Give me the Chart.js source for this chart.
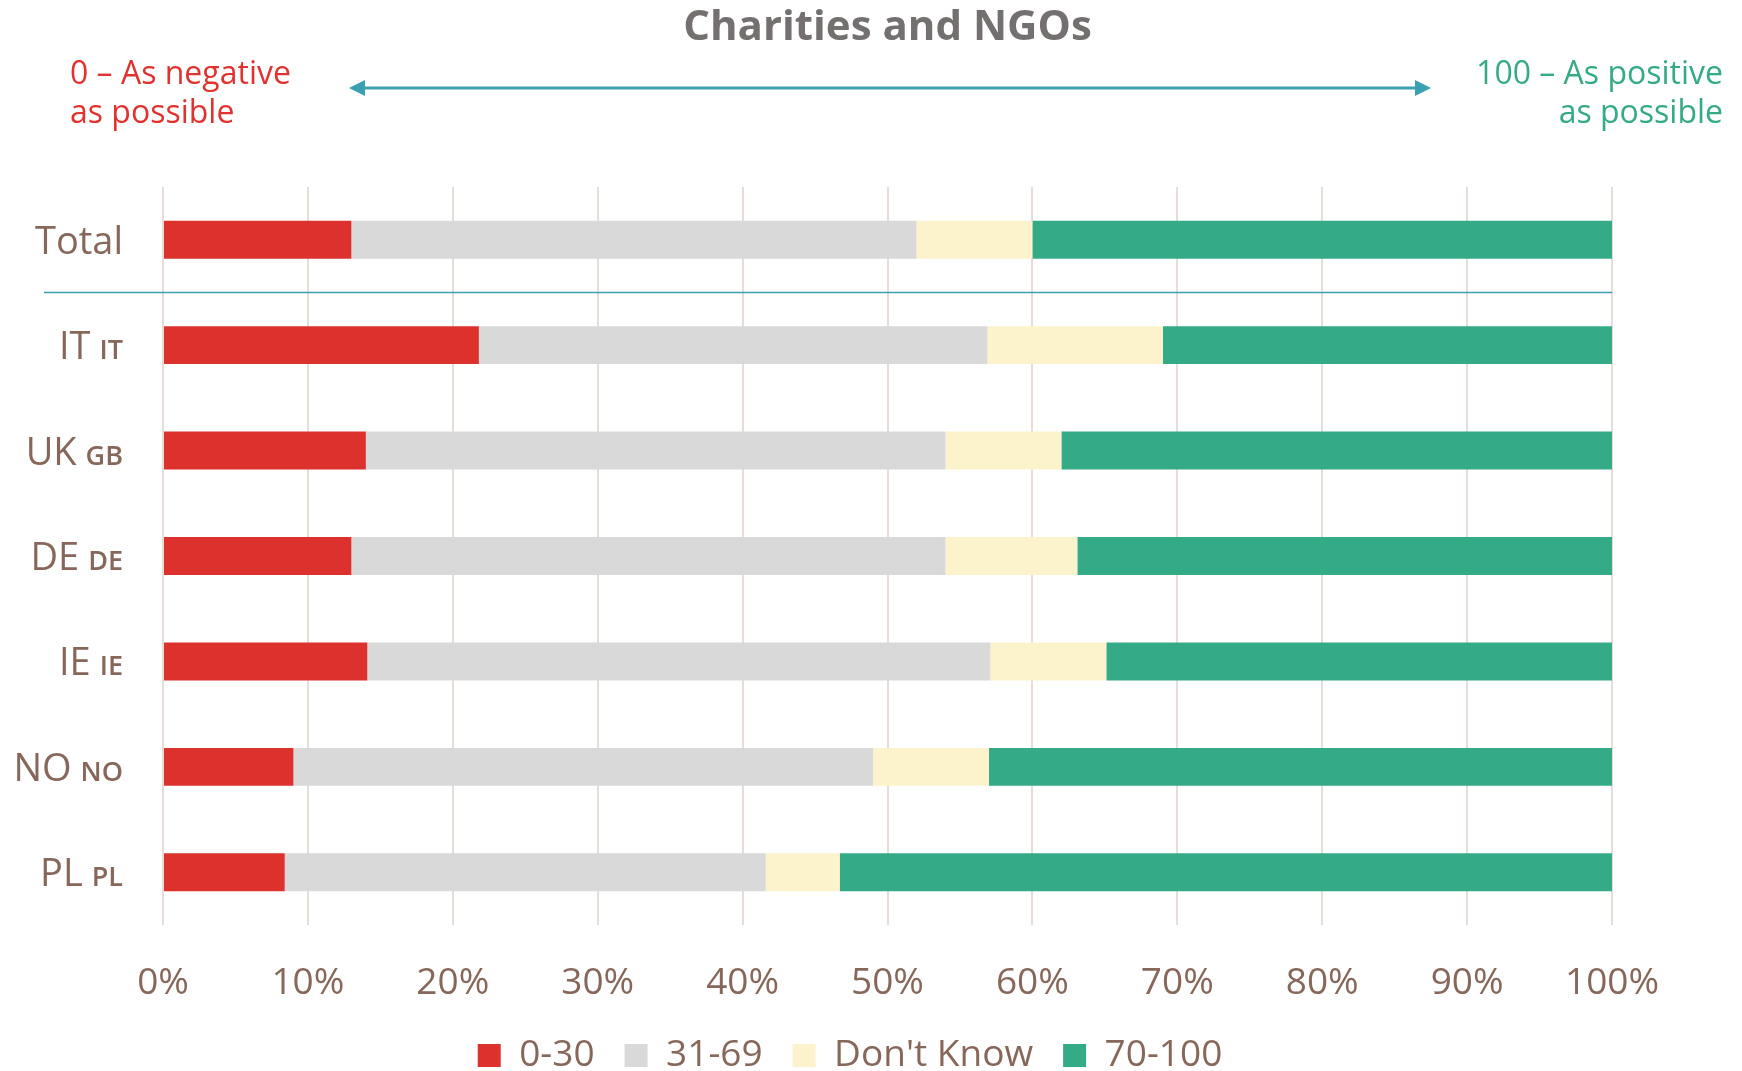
<!DOCTYPE html>
<html>
<head>
<meta charset="utf-8">
<title>Charities and NGOs</title>
<script src="https://cdn.jsdelivr.net/npm/chart.js@4.4.1/dist/chart.umd.min.js"></script>
<style>
  html, body { margin: 0; padding: 0; background: #fff; }
  #wrap { width: 1742px; height: 1071px; position: relative; }
</style>
</head>
<body>
<div id="wrap"><canvas id="chart"></canvas></div>
<script>
// values (% of respondents)
const categories = ["Total", "IT", "UK", "DE", "IE", "NO", "PL"];
const flagCodes = ["", "IT", "GB", "DE", "IE", "NO", "PL"];
const seriesNames = ["0-30", "31-69", "Don't Know", "70-100"];
const negative = [13.0, 21.8, 14.0, 13.0, 14.1, 9.0, 8.4];
const neutral = [39.0, 35.1, 40.0, 41.0, 43.0, 40.0, 33.2];
const dontKnow = [8.0, 12.1, 8.0, 9.1, 8.0, 8.0, 5.1];
const positive = [40.0, 31.0, 38.0, 36.9, 34.9, 43.0, 53.3];
const tickSuffix = "%";

const FONT = "'Open Sans', 'Noto Sans', sans-serif";
const BROWN = "#87675a";
const TEAL = "#3a9fb0";
const colors = ["#dd312e", "#d9d9d9", "#fcf3cc", "#35aa87"];

Chart.defaults.font.family = FONT;
Chart.defaults.color = BROWN;

// title, scale notes, arrow, separator and the two-part row labels
const decorations = {
  id: "decorations",
  beforeDatasetsDraw(chart) {
    const { ctx, chartArea, scales: { y } } = chart;
    const yLine = (y.getPixelForValue(0) + y.getPixelForValue(1)) / 2;
    ctx.save();
    ctx.strokeStyle = TEAL;
    ctx.lineWidth = 1.5;
    ctx.beginPath();
    ctx.moveTo(44, yLine);
    ctx.lineTo(chartArea.right, yLine);
    ctx.stroke();
    ctx.restore();
  },
  afterDraw(chart) {
    const { ctx, chartArea, scales: { y } } = chart;
    ctx.save();

    // title
    ctx.fillStyle = "#747070";
    ctx.font = "bold 42px " + FONT;
    ctx.textAlign = "center";
    ctx.textBaseline = "middle";
    ctx.fillText("Charities and NGOs", (chartArea.left + chartArea.right) / 2, 28);

    // scale notes
    ctx.font = "32px " + FONT;
    ctx.textAlign = "left";
    ctx.fillStyle = "#e0332f";
    ctx.fillText("0 \u2013 As negative", 70, 75);
    ctx.fillText("as possible", 70, 114);
    ctx.textAlign = "right";
    ctx.fillStyle = "#35aa86";
    ctx.fillText("100 \u2013 As positive", 1723, 75);
    ctx.fillText("as possible", 1723, 114);

    // double arrow
    const ay = 88, ax1 = 349, ax2 = 1431;
    ctx.strokeStyle = TEAL;
    ctx.fillStyle = TEAL;
    ctx.lineWidth = 3;
    ctx.beginPath();
    ctx.moveTo(ax1 + 10, ay);
    ctx.lineTo(ax2 - 10, ay);
    ctx.stroke();
    ctx.beginPath();
    ctx.moveTo(ax1, ay);
    ctx.lineTo(ax1 + 16, ay - 8);
    ctx.lineTo(ax1 + 16, ay + 8);
    ctx.closePath();
    ctx.fill();
    ctx.beginPath();
    ctx.moveTo(ax2, ay);
    ctx.lineTo(ax2 - 16, ay - 8);
    ctx.lineTo(ax2 - 16, ay + 8);
    ctx.closePath();
    ctx.fill();

    // row labels: name + small country code
    ctx.fillStyle = BROWN;
    ctx.textAlign = "right";
    ctx.textBaseline = "alphabetic";
    categories.forEach((name, i) => {
      const cy = y.getPixelForValue(i);
      const base = cy + 14;
      let px = 123;
      if (flagCodes[i]) {
        ctx.font = "600 27px " + FONT;
        ctx.fillText(flagCodes[i], px, base);
        px -= ctx.measureText(flagCodes[i]).width + 9;
      }
      ctx.font = "38px " + FONT;
      ctx.fillText(name, px, base);
    });
    ctx.restore();
  }
};

const seriesValues = [negative, neutral, dontKnow, positive];

new Chart(document.getElementById("chart"), {
  type: "bar",
  data: {
    labels: categories,
    datasets: seriesNames.map((name, i) => ({
      label: name,
      data: seriesValues[i],
      backgroundColor: colors[i],
      borderWidth: 0,
      categoryPercentage: 1,
      barPercentage: 0.36
    }))
  },
  options: {
    indexAxis: "y",
    responsive: true,
    maintainAspectRatio: false,
    animation: false,
    layout: { padding: { top: 187, right: 130, bottom: -13, left: 88 } },
    scales: {
      x: {
        stacked: true,
        min: 0,
        max: 100,
        ticks: {
          stepSize: 10,
          padding: 35,
          color: BROWN,
          font: { size: 37, lineHeight: 1.243 },
          callback: v => v + tickSuffix
        },
        grid: { color: "#e6dcd8", lineWidth: 2, drawTicks: false },
        border: { display: false },
        afterFit: scale => { scale.height = 82; }
      },
      y: {
        stacked: true,
        ticks: { display: false },
        grid: { display: false },
        border: { display: false },
        afterFit: scale => { scale.width = 75; }
      }
    },
    plugins: {
      legend: {
        position: "bottom",
        labels: {
          boxWidth: 23,
          boxHeight: 23,
          padding: 30,
          color: BROWN,
          font: { size: 37 }
        }
      },
      tooltip: { enabled: false }
    }
  },
  plugins: [decorations]
});
</script>
</body>
</html>
